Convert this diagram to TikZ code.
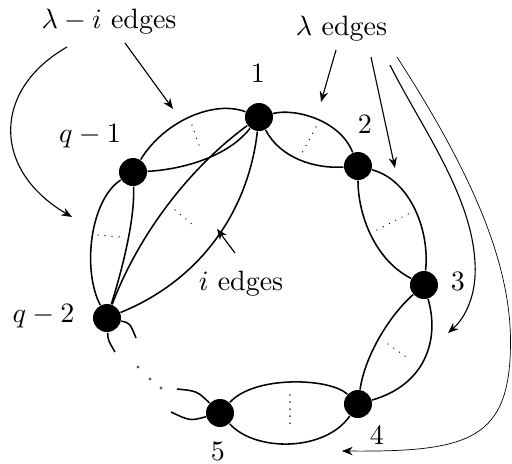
\documentclass[tikz,border=0pt]{standalone}
\usetikzlibrary{arrows.meta}
\begin{document}
\begin{tikzpicture}[x=0.357143pt,y=-0.357143pt,
  vtx/.style={circle,fill=black,inner sep=0pt,minimum size=10pt},
  edge/.style={line width=0.55pt},
  dots/.style={line width=0.5pt,dash pattern=on 0.01pt off 2.5pt,line cap=round},
  pointer/.style={line width=0.4pt,-{Stealth[length=3.8pt,width=3pt]}},
  lbl/.style={inner sep=0pt}]
\useasboundingbox (0,0) rectangle (512,464);

% vertices
\node[vtx] (n1) at (259,117) {};
\node[vtx] (nq1) at (133,172) {};
\node[vtx] (n2) at (358,166) {};
\node[vtx] (n3) at (424,285) {};
\node[vtx] (n4) at (358,404) {};
\node[vtx] (n5) at (220,413) {};
\node[vtx] (nq2) at (107,318) {};

% vertex labels
\node[lbl] (t1) at (258,73) {1};
\node[lbl] (t2) at (365,124) {2};
\node[lbl] (t3) at (458,281) {3};
\node[lbl] (t4) at (377,435) {4};
\node[lbl] (t5) at (218,451) {5};
\node[lbl,anchor=base] (tq1) at (90,142) {$q-1$};
\node[lbl,anchor=base] (tq2) at (43.5,322) {$q-2$};

% annotation labels
\node[lbl,anchor=base] (la) at (109,28) {$\lambda-i$ edges};
\node[lbl,anchor=base] (lb) at (341.5,35) {$\lambda$ edges};
\node[lbl,anchor=base] (lc) at (241,290) {$i$ edges};

% multi-edges
\draw[edge] (nq1) .. controls (165,120) and (215,100) .. (n1);
\draw[edge] (nq1) .. controls (175,170) and (225,160) .. (n1);
\draw[edge] (n1) .. controls (295,108) and (340,120) .. (n2);
\draw[edge] (n1) .. controls (280,158) and (315,169) .. (n2);
\draw[edge] (n2) .. controls (358,215) and (375,260) .. (n3);
\draw[edge] (n2) .. controls (410,180) and (430,230) .. (n3);
\draw[edge] (n3) .. controls (390,315) and (365,355) .. (n4);
\draw[edge] (n3) .. controls (440,340) and (425,385) .. (n4);
\draw[edge] (n4) .. controls (330,378) and (255,375) .. (n5);
\draw[edge] (n4) .. controls (325,452) and (255,452) .. (n5);
\draw[edge] (nq1) .. controls (90,200) and (82,270) .. (nq2);
\draw[edge] (nq1) .. controls (135,220) and (122,270) .. (nq2);
\draw[edge] (n1) .. controls (188,169) and (138,236) .. (nq2);
\draw[edge] (n1) .. controls (248,214) and (198,281) .. (nq2);

% stubs
\coordinate (s1) at (115,352);
\coordinate (s2) at (136,338);
\coordinate (s3) at (177,389);
\coordinate (s4) at (171,412);
\draw[edge] (nq2) .. controls (108,340) .. (s1);
\draw[edge] (nq2) .. controls (130,323) .. (s2);
\draw[edge] (n5) .. controls (197,391) .. (s3);
\draw[edge] (n5) .. controls (190,421) .. (s4);

% dotted lines inside lenses
\draw[dots] (192,125) -- (200,148);
\draw[dots] (316,127) -- (301,155);
\draw[dots] (377,230) -- (410,213);
\draw[dots] (388,344) -- (409,359);
\draw[dots] (290,395) -- (290,430);
\draw[dots] (98,235) -- (120,237);
\draw[dots] (175,210) -- (193,225);

% ellipsis dots
\fill[black!65] (138,367) circle (0.6pt);
\fill[black!65] (150,379) circle (0.6pt);
\fill[black!65] (161,388) circle (0.6pt);

% pointers
\coordinate (p1s) at (125,43);  \coordinate (p1e) at (173,109);
\coordinate (p2s) at (67,47);   \coordinate (p2e) at (72,217);
\coordinate (p3s) at (336,50);  \coordinate (p3e) at (321,102);
\coordinate (p4s) at (371,57);  \coordinate (p4e) at (395,168);
\coordinate (p5s) at (390,65);  \coordinate (p5m) at (475,263); \coordinate (p5e) at (448,333);
\coordinate (p6s) at (397,57);  \coordinate (p6m) at (510.5,340); \coordinate (p6e) at (342,451);
\coordinate (p7s) at (235,253); \coordinate (p7e) at (217,229);
\draw[pointer] (p1s) -- (p1e);
\draw[pointer] (p2s) .. controls (-8,90) and (-8,170) .. (p2e);
\draw[pointer] (p3s) -- (p3e);
\draw[pointer] (p4s) -- (p4e);
\draw[pointer] (p5s) .. controls (420,125) and (472,195) .. (p5m) .. controls (477,295) and (465,318) .. (p5e);
\draw[pointer,line width=0.25pt] (p6s) .. controls (470,170) and (510,260) .. (p6m) .. controls (511,440) and (470,452) .. (p6e);
\draw[pointer] (p7s) -- (p7e);
\end{tikzpicture}
\end{document}
